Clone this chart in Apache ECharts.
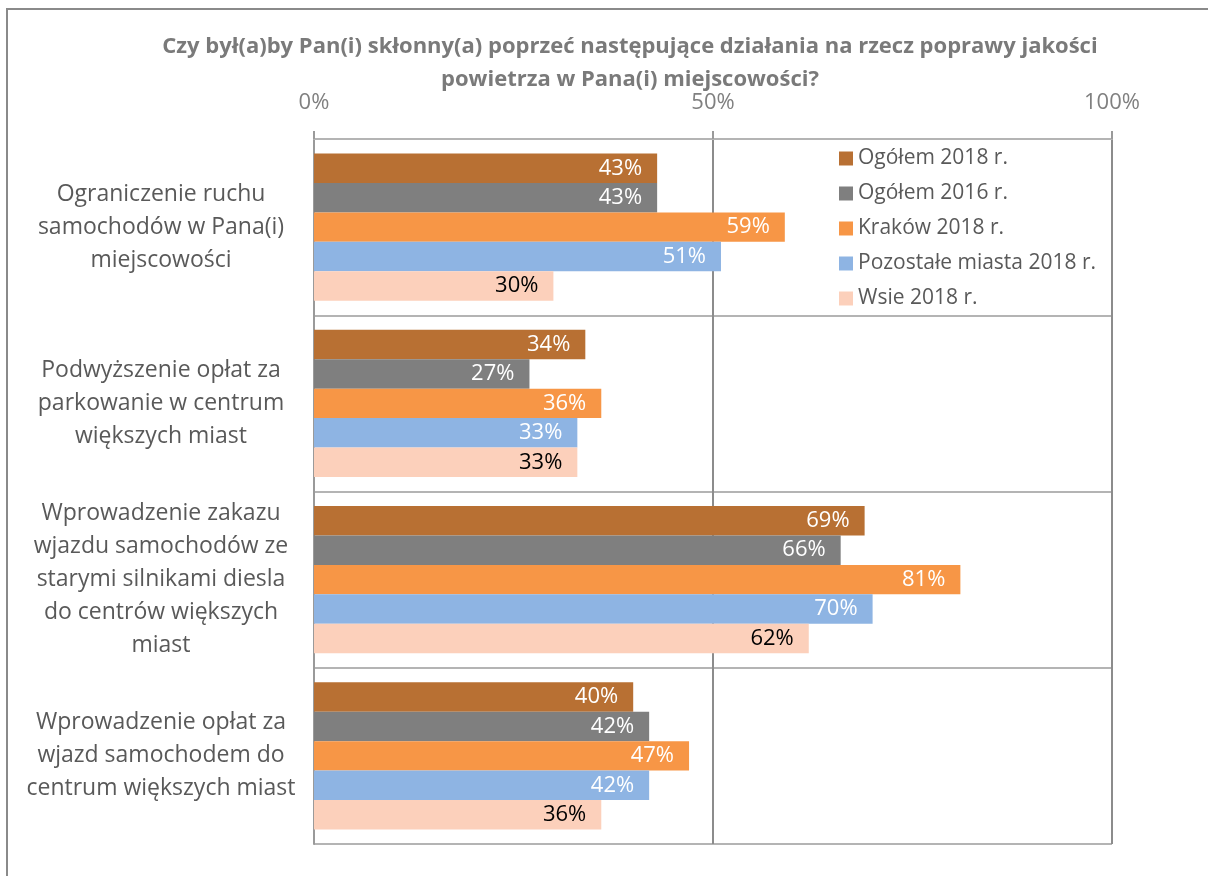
<!DOCTYPE html>
<html>
<head>
<meta charset="utf-8">
<script src="https://cdn.jsdelivr.net/npm/echarts@6/dist/echarts.min.js"></script>
<style>
  html, body { margin: 0; padding: 0; background: #fff; }
  #chart { width: 1208px; height: 876px; }
</style>
</head>
<body>
<div id="chart"></div>
<script>
const categories = [
  'Ograniczenie ruchu\nsamochodów w Pana(i)\nmiejscowości',
  'Podwyższenie opłat za\nparkowanie w centrum\nwiększych miast',
  'Wprowadzenie zakazu\nwjazdu samochodów ze\nstarymi silnikami diesla\ndo centrów większych\nmiast',
  'Wprowadzenie opłat za\nwjazd samochodem do\ncentrum większych miast'
];
const seriesNames = ['Ogółem 2018 r.', 'Ogółem 2016 r.', 'Kraków 2018 r.', 'Pozostałe miasta 2018 r.', 'Wsie 2018 r.'];
const ogolem2018 = [43, 34, 69, 40];
const ogolem2016 = [43, 27, 66, 42];
const krakow2018 = [59, 36, 81, 47];
const miasta2018 = [51, 33, 70, 42];
const wsie2018 = [30, 33, 62, 36];
const xTicks = [0, 50, 100];

const colors = ['#B87033', '#7F7F7F', '#F79646', '#8EB4E3', '#FCD0BB'];
const labelColors = ['#fff', '#fff', '#fff', '#fff', '#000'];
const FONT = '"Open Sans", Lato, sans-serif';

const chart = echarts.init(document.getElementById('chart'));

const makeSeries = (name, data, i) => ({
  name,
  type: 'bar',
  data,
  barGap: '0%',
  barCategoryGap: '16.5%',
  itemStyle: { color: colors[i] },
  label: {
    show: true,
    position: 'insideRight',
    distance: 15,
    formatter: '{c}%',
    color: labelColors[i],
    fontSize: 22,
    fontFamily: FONT
  }
});

chart.setOption({
  animation: false,
  textStyle: { fontFamily: FONT },
  title: {
    text: 'Czy był(a)by Pan(i) skłonny(a) poprzeć następujące działania na rzecz poprawy jakości\npowietrza w Pana(i) miejscowości?',
    left: 625,
    top: 25,
    textAlign: 'center',
    textStyle: {
      fontFamily: FONT,
      fontSize: 22,
      fontWeight: 'bold',
      color: '#7a7a7a',
      lineHeight: 33
    }
  },
  graphic: [{
    type: 'rect',
    shape: { x: 7, y: 9, width: 1400, height: 1000 },
    style: { fill: 'none', stroke: '#8a8a8a', lineWidth: 2 },
    silent: true
  }],
  legend: {
    orient: 'vertical',
    left: 834,
    top: 143,
    itemWidth: 14,
    itemHeight: 14,
    itemGap: 14,
    icon: 'rect',
    textStyle: { fontSize: 21, color: '#595959', fontFamily: FONT },
    data: seriesNames
  },
  grid: { left: 314, right: 96, top: 139, bottom: 32, containLabel: false },
  xAxis: {
    type: 'value',
    position: 'top',
    min: xTicks[0],
    max: xTicks[xTicks.length - 1],
    interval: 50,
    axisLine: { show: true, lineStyle: { color: '#b4b4b4', width: 2 } },
    axisTick: { show: true, length: 8, lineStyle: { color: '#9a9a9a', width: 2 } },
    axisLabel: { formatter: '{value}%', fontSize: 22, color: '#808080', margin: 25, fontFamily: FONT },
    splitLine: { show: true, lineStyle: { color: '#8c8c8c', width: 2 } }
  },
  yAxis: {
    type: 'category',
    inverse: true,
    data: categories,
    axisLine: { show: true, lineStyle: { color: '#9a9a9a', width: 2 } },
    axisTick: { show: false },
    splitLine: { show: true, lineStyle: { color: '#b4b4b4', width: 2 } },
    axisLabel: {
      align: 'center',
      margin: 153,
      fontSize: 23,
      lineHeight: 33,
      color: '#595959',
      fontFamily: FONT
    }
  },
  series: [
    makeSeries(seriesNames[0], ogolem2018, 0),
    makeSeries(seriesNames[1], ogolem2016, 1),
    makeSeries(seriesNames[2], krakow2018, 2),
    makeSeries(seriesNames[3], miasta2018, 3),
    makeSeries(seriesNames[4], wsie2018, 4)
  ]
});
</script>
</body>
</html>
